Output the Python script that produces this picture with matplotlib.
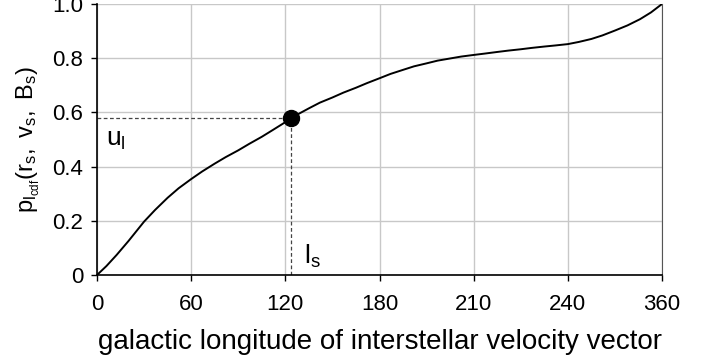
import matplotlib
matplotlib.use("Agg")
import matplotlib.pyplot as plt

plt.rcParams["font.family"] = ["Liberation Sans", "DejaVu Sans"]
plt.rcParams["mathtext.fontset"] = "custom"
plt.rcParams["mathtext.rm"] = "Liberation Sans"
plt.rcParams["mathtext.it"] = "Liberation Sans"

# CDF curve (degrees, probability)
longitude = [0, 6, 12.5, 20, 30, 37, 45, 52, 60, 67, 75, 82, 90, 97, 105, 112,
             120, 127, 135, 142, 150, 157, 165, 172, 180, 187, 195, 202, 210,
             217, 225, 232, 240, 247, 255, 262, 270, 277, 285, 292, 300, 307,
             315, 322, 330, 338, 346, 353, 360]
cdf = [0, 0.033, 0.074, 0.125, 0.197, 0.24, 0.285, 0.32, 0.354, 0.382, 0.411,
       0.435, 0.46, 0.484, 0.51, 0.535, 0.564, 0.59, 0.615, 0.636, 0.655,
       0.673, 0.691, 0.708, 0.726, 0.742, 0.757, 0.77, 0.781, 0.791, 0.799,
       0.806, 0.812, 0.817, 0.823, 0.828, 0.833, 0.838, 0.843, 0.847, 0.852,
       0.86, 0.871, 0.884, 0.902, 0.921, 0.944, 0.969, 1.0]

# sampled point
l_s = 123.4
u_l = 0.578

x_ticks = [0, 60, 120, 180, 240, 300, 360]
x_tick_labels = ["0", "60", "120", "180", "210", "240", "360"]
y_ticks = [0, 0.2, 0.4, 0.6, 0.8, 1.0]
y_tick_labels = ["0", "0.2", "0.4", "0.6", "0.8", "1.0"]

fig = plt.figure(figsize=(7.13, 3.6), dpi=100)
ax = fig.add_axes([97 / 713, 85 / 360, 565 / 713, 271 / 360])

ax.plot(longitude, cdf, color="black", lw=1.4, zorder=3)
ax.plot([0, l_s], [u_l, u_l], color="#444444", lw=0.9, ls=(0, (3, 2)), zorder=2)
ax.plot([l_s, l_s], [0, u_l], color="#444444", lw=0.9, ls=(0, (3, 2)), zorder=2)
ax.plot([l_s], [u_l], "o", color="black", markersize=11.5, zorder=4)

ax.text(6, 0.5, r"u$_\mathregular{l}$", fontsize=19, va="center", ha="left")
ax.text(132, 0.07, r"l$_\mathregular{s}$", fontsize=19, va="center", ha="left")

ax.set_xlim(0, 360)
ax.set_ylim(0, 1.0)
ax.set_xticks(x_ticks)
ax.set_xticklabels(x_tick_labels)
ax.set_yticks(y_ticks)
ax.set_yticklabels(y_tick_labels)
ax.tick_params(labelsize=16, length=4, width=1, color="black")
ax.tick_params(axis="x", pad=10)
ax.tick_params(axis="y", pad=6)
ax.grid(True, color="#c8c8c8", lw=1)
ax.set_axisbelow(True)

for side in ("left", "bottom"):
    ax.spines[side].set_color("black")
    ax.spines[side].set_linewidth(1.2)
ax.spines["right"].set_color("#555555")
ax.spines["top"].set_visible(False)

ax.set_xlabel("galactic longitude of interstellar velocity vector", fontsize=20, labelpad=10)
ax.set_ylabel(r"$\mathregular{p_{l_{cdf}}(r_s,\ v_s,\ B_s)}$", fontsize=17)
ax.yaxis.set_label_coords(-0.098, 0.5)

fig.savefig("out.png", dpi=100)
